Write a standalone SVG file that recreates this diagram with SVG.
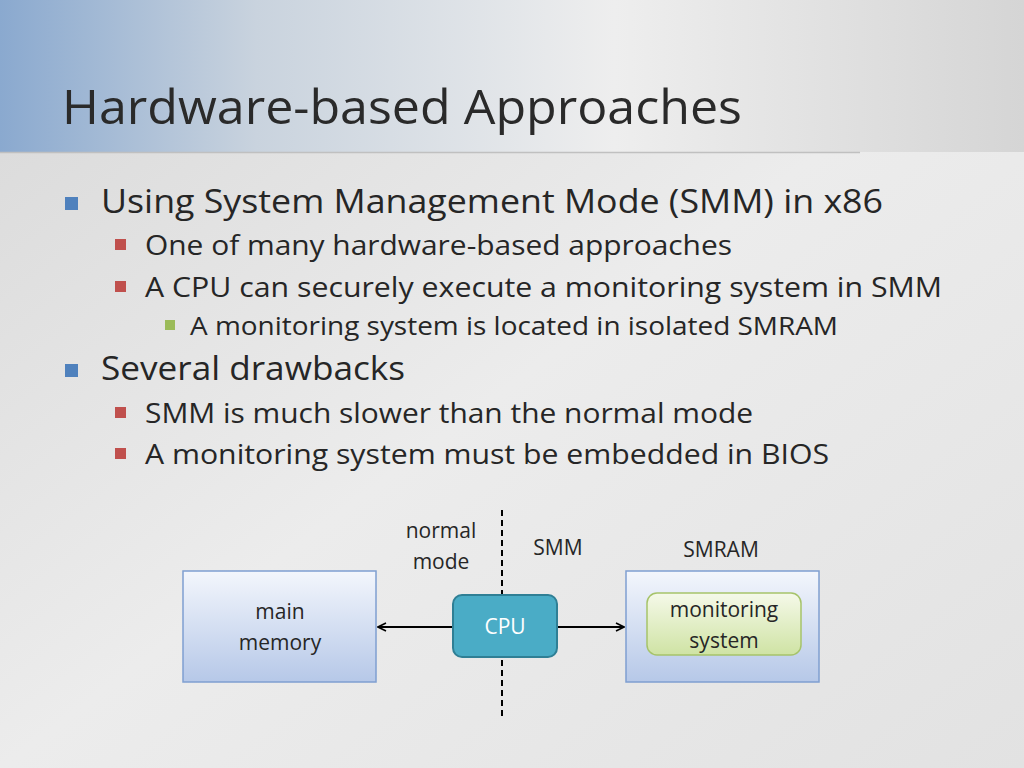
<svg xmlns="http://www.w3.org/2000/svg" width="1024" height="768" viewBox="0 0 1024 768">
<defs>
<linearGradient id="bg" x1="0" y1="0" x2="1" y2="1">
<stop offset="0" stop-color="#d8d8d8"/><stop offset="0.5" stop-color="#ececec"/><stop offset="1" stop-color="#e2e2e2"/>
</linearGradient>
<linearGradient id="top" x1="0" y1="0" x2="1" y2="0">
<stop offset="0" stop-color="#8aa9cf"/><stop offset="0.25" stop-color="#c9d3de"/><stop offset="0.6" stop-color="#eeeeee"/><stop offset="1" stop-color="#d5d5d5"/>
</linearGradient>
<linearGradient id="box" x1="0" y1="0" x2="0" y2="1">
<stop offset="0" stop-color="#f3f6fc"/><stop offset="1" stop-color="#b6c8e8"/>
</linearGradient>
<linearGradient id="grn" x1="0" y1="0" x2="0" y2="1">
<stop offset="0" stop-color="#f5f9e9"/><stop offset="1" stop-color="#cfe3a4"/>
</linearGradient>
<marker id="ah" viewBox="0 0 10 10" refX="9" refY="5" markerWidth="10" markerHeight="10" markerUnits="userSpaceOnUse" orient="auto-start-reverse">
<path d="M1,1 L9,5 L1,9" fill="none" stroke="#000" stroke-width="1.6"/>
</marker>
<style>
text{font-family:"Open Sans","Noto Sans","DejaVu Sans",sans-serif;fill:#262626}
.l1{font-size:32px}.l2{font-size:28px}.l3{font-size:25px}
.d{font-size:21px;text-anchor:middle}
.box{fill:url(#box);stroke:#7f9fd1;stroke-width:1.5}
</style>
</defs>
<rect width="1024" height="768" fill="url(#bg)"/>
<rect width="1024" height="152" fill="url(#top)"/>
<line x1="0" y1="152.5" x2="860" y2="152.5" stroke="#c0c0c0" stroke-width="1.5"/>
<text x="62" y="124" style="font-size:48px;fill:#2a2a2a" textLength="680" lengthAdjust="spacingAndGlyphs">Hardware-based Approaches</text>
<g fill="#4f81bd"><rect x="65" y="197" width="13" height="13"/><rect x="65" y="364" width="13" height="13"/></g>
<g fill="#c0504d"><rect x="115" y="239" width="11" height="11"/><rect x="115" y="281" width="11" height="11"/><rect x="115" y="407" width="11" height="11"/><rect x="115" y="448" width="11" height="11"/></g>
<rect x="165" y="320" width="10" height="10" fill="#9bbb59"/>
<text class="l1" x="101" y="213" textLength="782" lengthAdjust="spacingAndGlyphs">Using System Management Mode (SMM) in x86</text>
<text class="l2" x="145" y="255" textLength="587" lengthAdjust="spacingAndGlyphs">One of many hardware-based approaches</text>
<text class="l2" x="145" y="297" textLength="797" lengthAdjust="spacingAndGlyphs">A CPU can securely execute a monitoring system in SMM</text>
<text class="l3" x="190" y="335" textLength="648" lengthAdjust="spacingAndGlyphs">A monitoring system is located in isolated SMRAM</text>
<text class="l1" x="101" y="380" textLength="304" lengthAdjust="spacingAndGlyphs">Several drawbacks</text>
<text class="l2" x="145" y="423" textLength="608" lengthAdjust="spacingAndGlyphs">SMM is much slower than the normal mode</text>
<text class="l2" x="145" y="464" textLength="684" lengthAdjust="spacingAndGlyphs">A monitoring system must be embedded in BIOS</text>
<line x1="502" y1="510" x2="502" y2="720" stroke="#000" stroke-width="2" stroke-dasharray="6,4"/>
<text class="d" x="441" y="538">normal</text>
<text class="d" x="441" y="569">mode</text>
<text class="d" x="558" y="555">SMM</text>
<text class="d" x="721" y="557">SMRAM</text>
<g id="connectors" fill="none" stroke="#000" stroke-width="2">
<line x1="453" y1="627" x2="378" y2="627" marker-end="url(#ah)"/>
<line x1="557" y1="627" x2="624" y2="627" marker-end="url(#ah)"/>
</g>
<g id="mainmem"><rect class="box" x="183" y="571" width="193" height="111"/>
<text class="d" x="280" y="619">main</text><text class="d" x="280" y="650">memory</text></g>
<g id="smram"><rect class="box" x="626" y="571" width="193" height="111"/></g>
<g id="monitor"><rect x="647" y="593" width="154" height="62" rx="10" fill="url(#grn)" stroke="#a6c36a" stroke-width="1.5"/>
<text class="d" x="724" y="617">monitoring</text><text class="d" x="724" y="648">system</text></g>
<g id="cpu"><rect x="453" y="595" width="104" height="62" rx="9" fill="#4aacc6" stroke="#2f7f95" stroke-width="2"/>
<text class="d" x="505" y="634" style="fill:#fff">CPU</text></g>
</svg>
